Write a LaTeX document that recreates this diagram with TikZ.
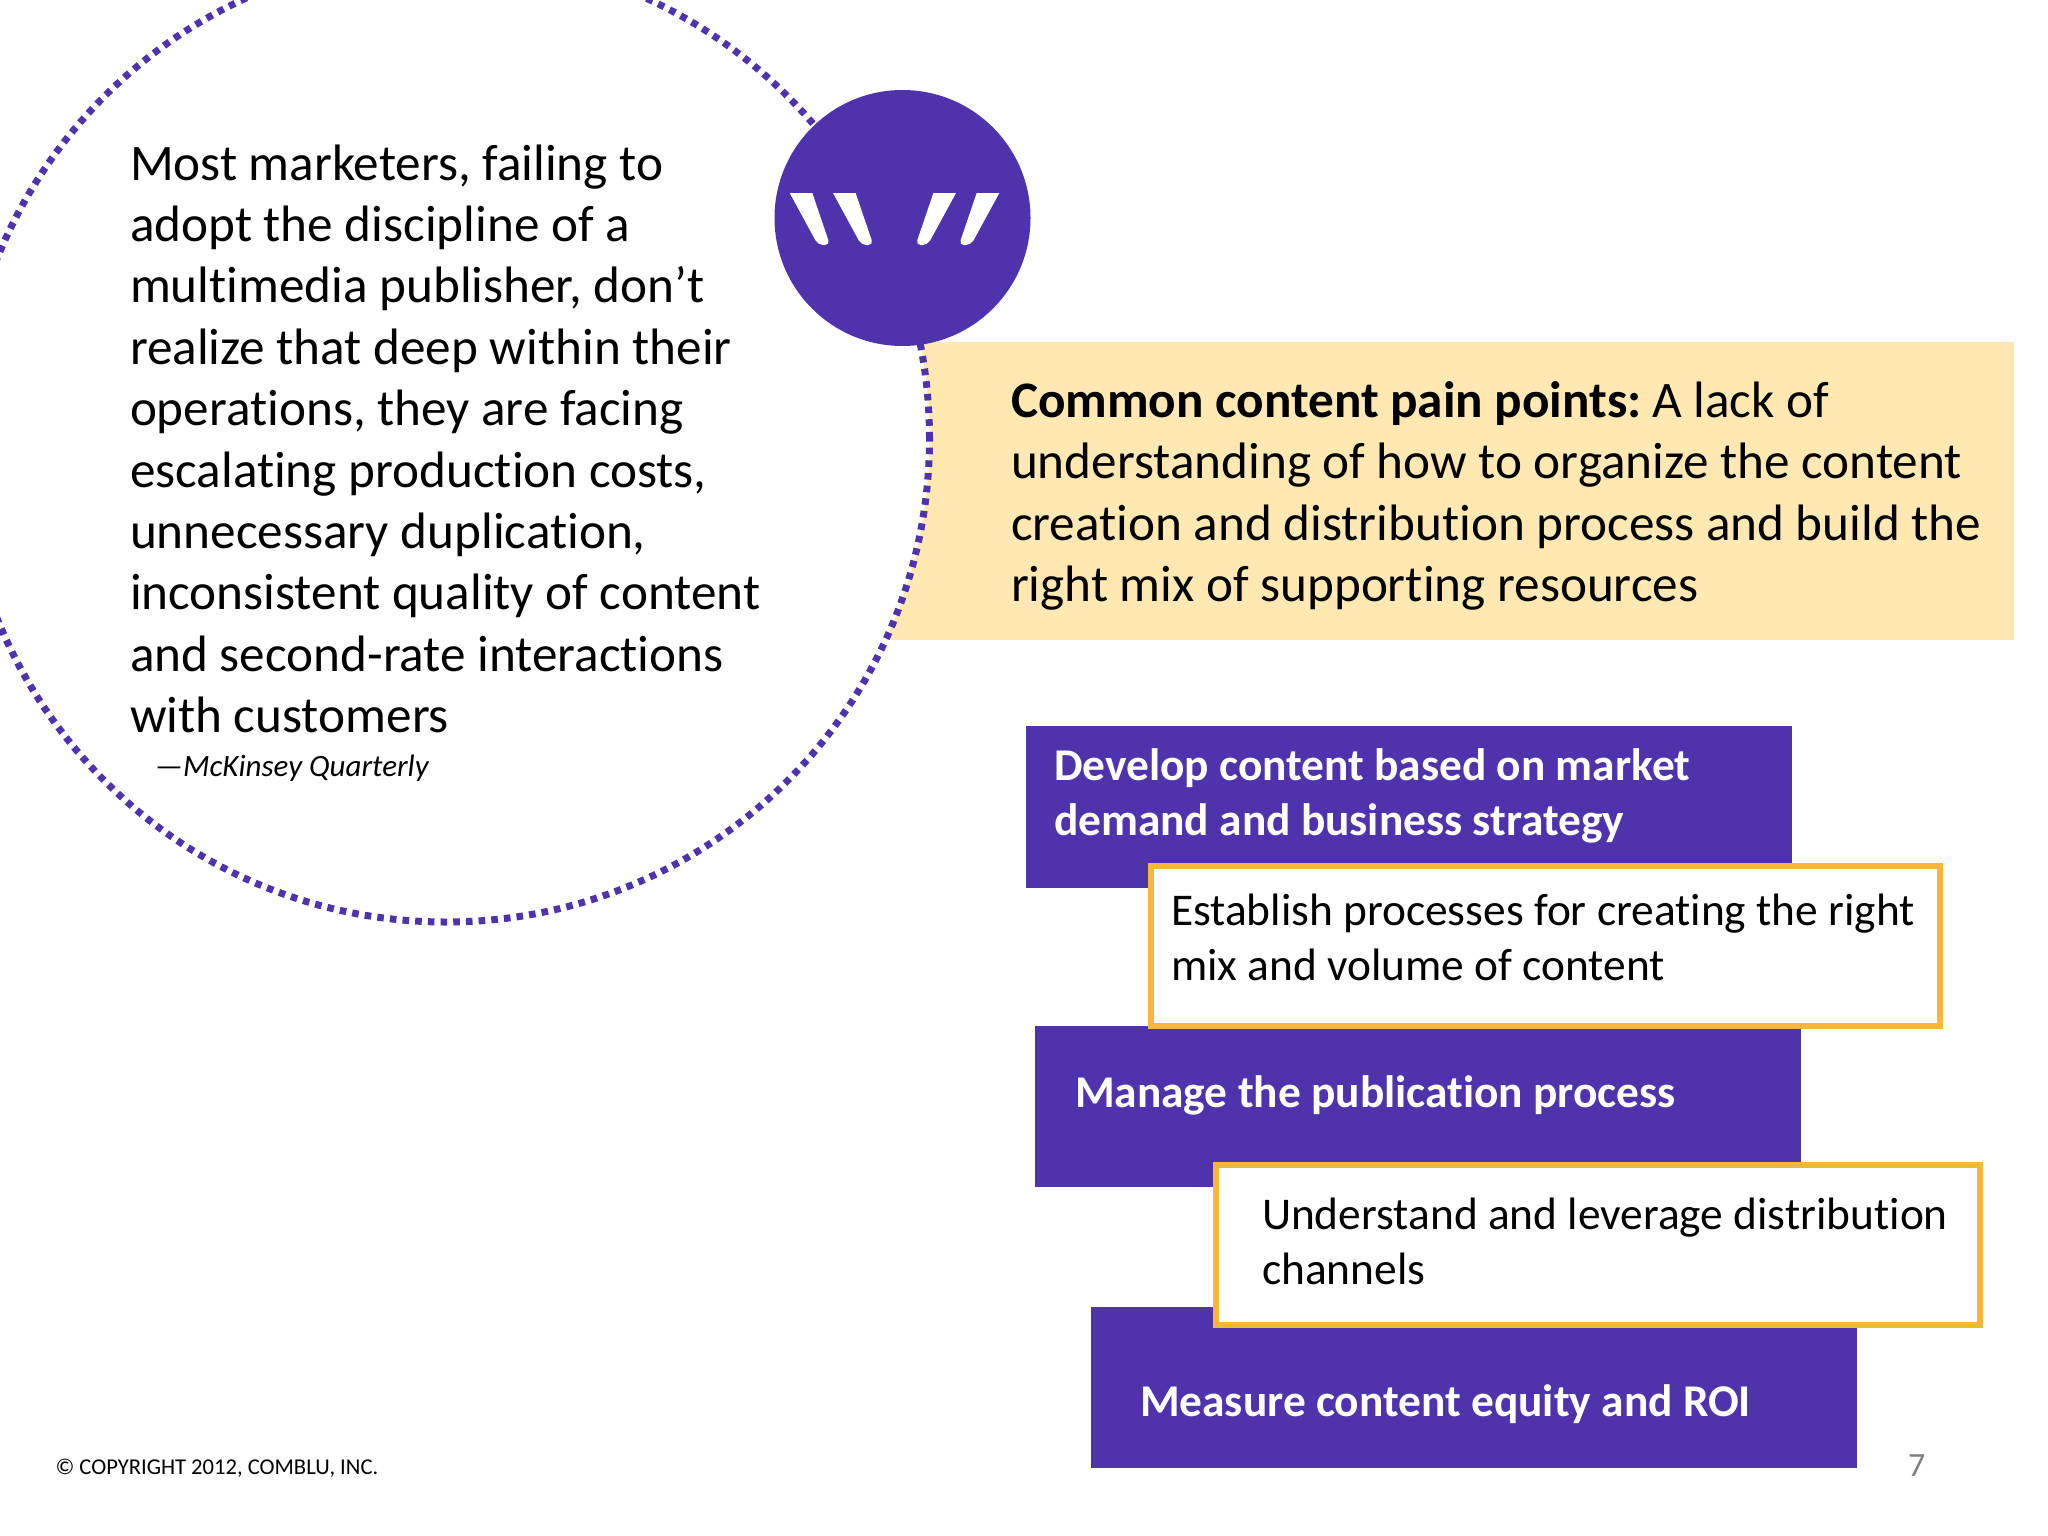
\documentclass[tikz,border=0pt]{standalone}
\usepackage{fontspec}
\setmainfont[Ligatures=CommonOff]{Carlito}
\definecolor{cbpurple}{HTML}{4E33AC}
\definecolor{cbyellow}{HTML}{FFE8B2}
\definecolor{cborange}{HTML}{FBB53A}
\definecolor{cbgray}{HTML}{808080}
\newcommand{\rowsof}[1]{\begin{tabular}[t]{@{}l@{}}#1\end{tabular}}
\tikzset{
  x=1pt,y=-1pt,
  panel/.style={draw=none,inner sep=0,outer sep=0,anchor=north west,rectangle},
  purplebox/.style={panel,fill=cbpurple},
  orangebox/.style={panel,fill=white,draw=cborange,line width=6pt},
  txt/.style={inner sep=0,outer sep=0,anchor=base west},
  bigtext/.style={txt,text=black,font=\fontsize{51.2}{61.4}\selectfont},
  boldbox/.style={txt,text=white,font=\fontsize{45.4}{55}\selectfont\bfseries},
  plainbox/.style={txt,text=black,font=\fontsize{45.4}{55}\selectfont},
  markpart/.style={fill=white}
}
\begin{document}
\begin{tikzpicture}
\useasboundingbox (0,0) rectangle (2048,1536);
\fill[white] (0,0) rectangle (2048,1536);
\node[panel,fill=cbyellow,minimum width=1214pt,minimum height=298pt] (band) at (800,342) {};
\node[circle,fill=white,draw=cbpurple,line width=7pt,dash pattern=on 6.6pt off 6.1pt,minimum size=967pt,inner sep=0] (ring) at (446,438.5) {};
\node[circle,fill=cbpurple,minimum size=256pt,inner sep=0] (logo) at (902.5,218) {};
% quote marks
\foreach \dx in {0,43.3}{
  \fill[markpart] (789.7+\dx,193) -- (812.3+\dx,193) [rounded corners=5pt] -- (830+\dx,245) -- (818+\dx,245) [sharp corners] -- cycle;
  \fill[markpart] (999.3-\dx,193) -- (976.7-\dx,193) [rounded corners=5pt] -- (959-\dx,245) -- (971-\dx,245) [sharp corners] -- cycle;
}
\node[bigtext] (quote) at (130,180) {\rowsof{Most marketers, failing to\\adopt the discipline of a\\multimedia publisher, don’t\\realize that deep within their\\operations, they are facing\\escalating production costs,\\unnecessary duplication,\\inconsistent quality of content\\and second-rate interactions\\with customers}};
\node[txt,font=\fontsize{31}{37}\selectfont\itshape] (source) at (155,776) {—McKinsey Quarterly};
\node[bigtext] (pain) at (1011,417.5) {\rowsof{\textbf{Common content pain points:}\hspace{-5pt} A lack of\\understanding of how to organize the content\\creation and distribution process and build the\\right mix of supporting resources}};
\node[purplebox,minimum width=766pt,minimum height=162pt] (b1) at (1026,726) {};
\node[purplebox,minimum width=766pt,minimum height=161pt] (b2) at (1035,1026) {};
\node[purplebox,minimum width=766pt,minimum height=161pt] (b3) at (1091,1307) {};
\node[orangebox,minimum width=789pt,minimum height=160pt] (o1) at (1151,866) {};
\node[orangebox,minimum width=764pt,minimum height=160pt] (o2) at (1216,1165) {};
\node[boldbox] (t1) at (1054,780) {\rowsof{Develop content based on market\\demand and business strategy}};
\node[plainbox] (t2) at (1171,925) {\rowsof{Establish processes for creating the right\\mix and volume of content}};
\node[boldbox] (t3) at (1075,1107) {Manage the publication process};
\node[plainbox] (t4) at (1262,1229) {\rowsof{Understand and leverage distribution\\channels}};
\node[boldbox] (t5) at (1140,1416) {Measure content equity and ROI};
\node[txt,font=\fontsize{22.6}{27}\selectfont] (copy) at (55.5,1474.5) {© COPYRIGHT 2012, COMBLU, INC.};
\node[txt,font=\fontsize{34}{40}\selectfont,text=cbgray] (page) at (1908,1476) {7};
\end{tikzpicture}
\end{document}
